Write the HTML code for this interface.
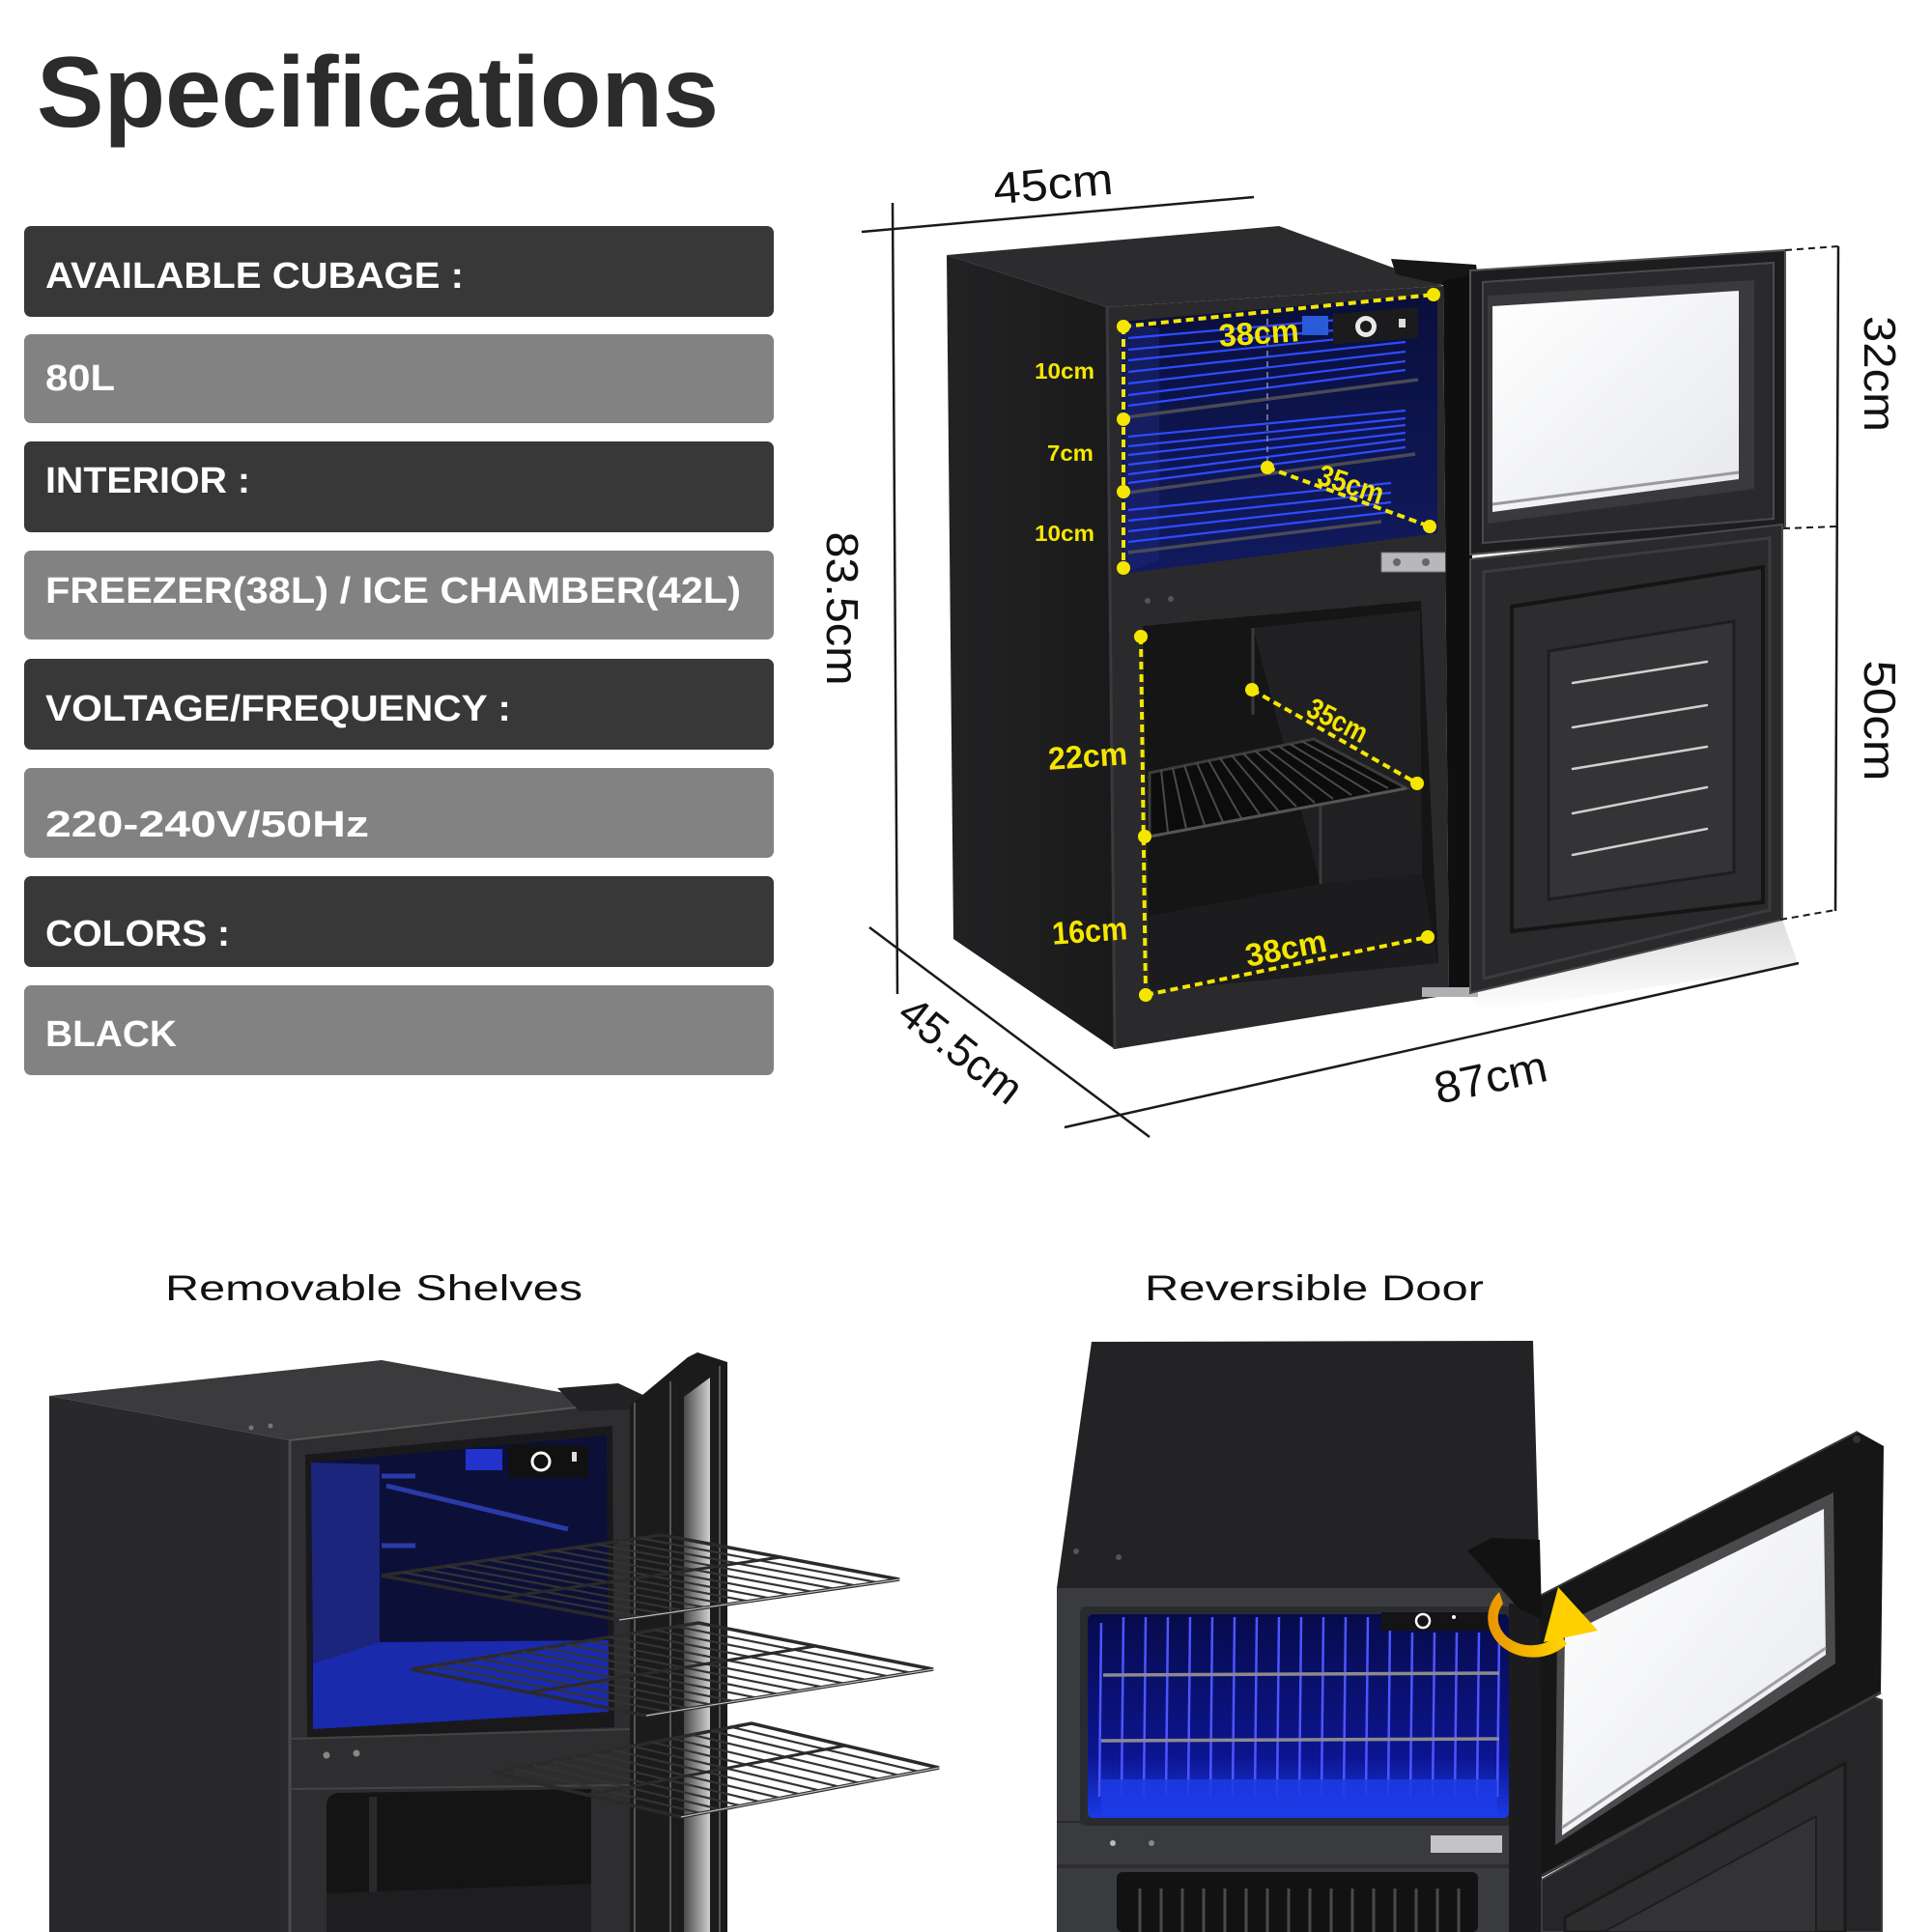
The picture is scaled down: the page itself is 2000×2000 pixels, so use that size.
<!DOCTYPE html>
<html><head><meta charset="utf-8">
<style>
html,body{margin:0;padding:0;background:#fff;}
svg{display:block;}
</style></head>
<body>
<svg width="2000" height="2000" viewBox="0 0 2000 2000" xmlns="http://www.w3.org/2000/svg" font-family="'Liberation Sans', sans-serif">
<defs>
<linearGradient id="glassG" x1="0" y1="0" x2="1" y2="1"><stop offset="0" stop-color="#ffffff"/><stop offset="1" stop-color="#e6e8ec"/></linearGradient>
<linearGradient id="blueT" x1="0" y1="0" x2="0" y2="1"><stop offset="0" stop-color="#0a0f3c"/><stop offset="1" stop-color="#111a5e"/></linearGradient>
<linearGradient id="blueBR" x1="0" y1="0" x2="0" y2="1"><stop offset="0" stop-color="#070b4a"/><stop offset="0.7" stop-color="#0c1590"/><stop offset="1" stop-color="#1a3ae8"/></linearGradient>
<linearGradient id="arrowG" x1="0" y1="0" x2="1" y2="0"><stop offset="0" stop-color="#e99400"/><stop offset="1" stop-color="#ffd600"/></linearGradient>
<linearGradient id="stripG" x1="0" y1="0" x2="1" y2="0"><stop offset="0" stop-color="#4a4a4a"/><stop offset="1" stop-color="#cfcfcf"/></linearGradient>
<linearGradient id="sideG" x1="0" y1="0" x2="1" y2="0"><stop offset="0" stop-color="#222224"/><stop offset="1" stop-color="#1a1a1b"/></linearGradient>
<linearGradient id="floorRef" x1="0" y1="0" x2="0" y2="1"><stop offset="0" stop-color="#cfcfcf"/><stop offset="1" stop-color="#ffffff"/></linearGradient>
<g id="rack">
 <rect x="0" y="0" width="1" height="1" fill="none" stroke="#2a2a2a" stroke-width="3.5" vector-effect="non-scaling-stroke"/>
 <g stroke="#333" stroke-width="2.2">
 <line x1="0.077" y1="0" x2="0.077" y2="1" vector-effect="non-scaling-stroke"/>
 <line x1="0.154" y1="0" x2="0.154" y2="1" vector-effect="non-scaling-stroke"/>
 <line x1="0.231" y1="0" x2="0.231" y2="1" vector-effect="non-scaling-stroke"/>
 <line x1="0.308" y1="0" x2="0.308" y2="1" vector-effect="non-scaling-stroke"/>
 <line x1="0.385" y1="0" x2="0.385" y2="1" vector-effect="non-scaling-stroke"/>
 <line x1="0.462" y1="0" x2="0.462" y2="1" vector-effect="non-scaling-stroke"/>
 <line x1="0.538" y1="0" x2="0.538" y2="1" vector-effect="non-scaling-stroke"/>
 <line x1="0.615" y1="0" x2="0.615" y2="1" vector-effect="non-scaling-stroke"/>
 <line x1="0.692" y1="0" x2="0.692" y2="1" vector-effect="non-scaling-stroke"/>
 <line x1="0.769" y1="0" x2="0.769" y2="1" vector-effect="non-scaling-stroke"/>
 <line x1="0.846" y1="0" x2="0.846" y2="1" vector-effect="non-scaling-stroke"/>
 <line x1="0.923" y1="0" x2="0.923" y2="1" vector-effect="non-scaling-stroke"/>
 </g>
 <line x1="0" y1="0.5" x2="1" y2="0.5" stroke="#2a2a2a" stroke-width="3" vector-effect="non-scaling-stroke"/>
 <line x1="0" y1="1" x2="1" y2="1" stroke="#bdbdbd" stroke-width="1.2" vector-effect="non-scaling-stroke"/>
</g>
</defs>

<rect width="2000" height="2000" fill="#ffffff"/>

<!-- ===== Title ===== -->
<text x="38" y="131" font-size="104" font-weight="bold" fill="#2b2b2b" textLength="706" lengthAdjust="spacingAndGlyphs">Specifications</text>

<!-- ===== Spec bars ===== -->
<rect x="25" y="234" width="776" height="94" rx="7" fill="#383838"/>
<rect x="25" y="346" width="776" height="92" rx="7" fill="#828282"/>
<rect x="25" y="457" width="776" height="94" rx="7" fill="#383838"/>
<rect x="25" y="570" width="776" height="92" rx="7" fill="#828282"/>
<rect x="25" y="682" width="776" height="94" rx="7" fill="#383838"/>
<rect x="25" y="795" width="776" height="93" rx="7" fill="#828282"/>
<rect x="25" y="907" width="776" height="94" rx="7" fill="#383838"/>
<rect x="25" y="1020" width="776" height="93" rx="7" fill="#828282"/>
<g font-size="38" font-weight="bold" fill="#ffffff">
<text x="47" y="298" textLength="433" lengthAdjust="spacingAndGlyphs">AVAILABLE CUBAGE :</text>
<text x="47" y="404" textLength="72" lengthAdjust="spacingAndGlyphs">80L</text>
<text x="47" y="510" textLength="212" lengthAdjust="spacingAndGlyphs">INTERIOR :</text>
<text x="47" y="624" textLength="720" lengthAdjust="spacingAndGlyphs">FREEZER(38L) / ICE CHAMBER(42L)</text>
<text x="47" y="746" textLength="482" lengthAdjust="spacingAndGlyphs">VOLTAGE/FREQUENCY :</text>
<text x="47" y="866" textLength="335" lengthAdjust="spacingAndGlyphs">220-240V/50Hz</text>
<text x="47" y="979" textLength="191" lengthAdjust="spacingAndGlyphs">COLORS :</text>
<text x="47" y="1083" textLength="136" lengthAdjust="spacingAndGlyphs">BLACK</text>
</g>

<!-- ===== TOP DIAGRAM (fridge) ===== -->
<polygon points="1522,1028 1845,952 1862,1000 1530,1048" fill="url(#floorRef)" opacity="0.7"/>
<polygon points="980,264 1146,318 1154,1086 987,972" fill="url(#sideG)"/>
<polygon points="980,264 1324,234 1494,296 1146,318" fill="#2c2c2e"/>
<polygon points="1440,268 1528,274 1530,286 1497,296 1445,284" fill="#161616"/>
<polygon points="1146,318 1494,296 1500,1030 1154,1086" fill="#2a2a2c"/>
<line x1="1146" y1="318" x2="1154" y2="1086" stroke="#3a3a3c" stroke-width="3"/>
<polygon points="1160,333 1488,304 1488,552 1162,594" fill="url(#blueT)"/>
<polygon points="1160,333 1200,340 1200,580 1162,594" fill="#1a2470" opacity="0.6"/>
<g stroke="#2f4bff" stroke-width="2.2" fill="none">
<line x1="1168" y1="350" x2="1455" y2="325"/>
<line x1="1168" y1="362" x2="1455" y2="335"/>
<line x1="1168" y1="373" x2="1455" y2="344"/>
<line x1="1168" y1="385" x2="1455" y2="354"/>
<line x1="1168" y1="397" x2="1455" y2="364"/>
<line x1="1168" y1="409" x2="1455" y2="374"/>
<line x1="1168" y1="420" x2="1455" y2="383"/>
<line x1="1168" y1="452" x2="1455" y2="425"/>
<line x1="1168" y1="462" x2="1455" y2="433"/>
<line x1="1168" y1="471" x2="1455" y2="440"/>
<line x1="1168" y1="481" x2="1455" y2="448"/>
<line x1="1168" y1="491" x2="1455" y2="455"/>
<line x1="1168" y1="500" x2="1455" y2="463"/>
<line x1="1168" y1="528" x2="1440" y2="500"/>
<line x1="1168" y1="539" x2="1440" y2="510"/>
<line x1="1168" y1="550" x2="1440" y2="520"/>
<line x1="1168" y1="561" x2="1440" y2="530"/>
</g>
<g stroke="#4a4a55" stroke-width="3.5">
<line x1="1166" y1="432" x2="1468" y2="393"/>
<line x1="1168" y1="510" x2="1465" y2="470"/>
<line x1="1168" y1="572" x2="1430" y2="540"/>
</g>
<line x1="1312" y1="330" x2="1312" y2="484" stroke="#8890b0" stroke-width="1.5" stroke-dasharray="6 5"/>
<rect x="1348" y="327" width="27" height="20" fill="#2a5ad8"/>
<polygon points="1380,325 1468,318 1468,350 1380,356" fill="#1b1b1d"/>
<circle cx="1414" cy="338" r="11" fill="#e8e8e8"/>
<circle cx="1414" cy="338" r="6" fill="#1b1b1d"/>
<rect x="1448" y="330" width="7" height="9" fill="#ddd"/>
<rect x="1430" y="572" width="68" height="20" fill="#b8b8bc" stroke="#777" stroke-width="1"/>
<circle cx="1446" cy="582" r="4" fill="#666"/><circle cx="1476" cy="582" r="4" fill="#666"/>
<circle cx="1188" cy="622" r="3" fill="#555"/><circle cx="1212" cy="620" r="3" fill="#555"/>
<polygon points="1183,648 1471,622 1489,997 1190,1026" fill="#151516"/>
<polygon points="1297,650 1470,632 1472,905 1367,915" fill="#202023"/>
<polygon points="1190,948 1367,915 1472,905 1489,997 1190,1026" fill="#1c1c1e"/>
<line x1="1297" y1="650" x2="1297" y2="740" stroke="#3a3a3c" stroke-width="3"/>
<line x1="1367" y1="830" x2="1367" y2="915" stroke="#3a3a3c" stroke-width="3"/>
<polygon points="1190,800 1360,765 1456,816 1190,866" fill="#0c0c0c" stroke="#3c3c3c" stroke-width="3"/>
<g stroke="#4a4a4a" stroke-width="2">
<line x1="1202" y1="797" x2="1209" y2="862"/><line x1="1214" y1="795" x2="1228" y2="858"/>
<line x1="1226" y1="792" x2="1247" y2="854"/><line x1="1239" y1="790" x2="1266" y2="851"/>
<line x1="1251" y1="787" x2="1285" y2="847"/><line x1="1263" y1="785" x2="1304" y2="843"/>
<line x1="1275" y1="782" x2="1323" y2="839"/><line x1="1287" y1="780" x2="1342" y2="835"/>
<line x1="1299" y1="777" x2="1361" y2="831"/><line x1="1311" y1="775" x2="1380" y2="827"/>
<line x1="1323" y1="772" x2="1399" y2="823"/><line x1="1335" y1="770" x2="1418" y2="820"/>
<line x1="1347" y1="767" x2="1437" y2="816"/>
</g>
<line x1="1190" y1="866" x2="1456" y2="816" stroke="#555" stroke-width="3"/>
<polygon points="1494,290 1524,284 1524,1030 1500,1032" fill="#0f0f10"/>
<rect x="1472" y="1022" width="58" height="10" fill="#b0b0b4"/>
<polygon points="1522,280 1848,259 1848,546 1522,574" fill="#1d1d1f" stroke="#555" stroke-width="2"/>
<polygon points="1535,292 1836,272 1836,537 1535,562" fill="#2a2a2c" stroke="#4a4a4c" stroke-width="2"/>
<polygon points="1540,306 1816,290 1816,506 1540,542" fill="#3a3a3d"/>
<polygon points="1545,317 1800,301 1800,496 1545,530" fill="url(#glassG)"/>
<line x1="1545" y1="522" x2="1800" y2="489" stroke="#9a9a9e" stroke-width="3"/>
<polygon points="1522,579 1845,543 1845,952 1522,1028" fill="#2a2a2c" stroke="#4a4a4c" stroke-width="2"/>
<polygon points="1536,592 1832,557 1832,942 1536,1013" fill="none" stroke="#3c3c3e" stroke-width="3"/>
<polygon points="1565,628 1825,587 1825,934 1565,964" fill="#2d2d30" stroke="#151515" stroke-width="4"/>
<polygon points="1603,674 1795,643 1795,903 1603,931" fill="#343437" stroke="#1e1e20" stroke-width="3"/>
<g stroke="#d0d0d0" stroke-width="2.5" stroke-linecap="round">
<line x1="1628" y1="707" x2="1767" y2="685"/>
<line x1="1628" y1="753" x2="1767" y2="730"/>
<line x1="1628" y1="796" x2="1767" y2="773"/>
<line x1="1628" y1="842" x2="1767" y2="815"/>
<line x1="1628" y1="885" x2="1767" y2="858"/>
</g>

<g stroke="#1a1a1a" stroke-width="2.5" fill="none">
<line x1="892" y1="240" x2="1298" y2="204"/>
<line x1="924" y1="210" x2="929" y2="1029"/>
<line x1="900" y1="960" x2="1190" y2="1177"/>
<line x1="1102" y1="1167" x2="1862" y2="997"/>
<line x1="1903" y1="255" x2="1900" y2="943"/>
</g>
<g stroke="#1a1a1a" stroke-width="2" stroke-dasharray="7 5">
<line x1="1848" y1="259" x2="1903" y2="255"/>
<line x1="1846" y1="547" x2="1902" y2="545"/>
<line x1="1843" y1="952" x2="1900" y2="942"/>
</g>
<g font-size="46" fill="#111" text-anchor="middle">
<text transform="translate(1090,190) rotate(-5)" x="0" y="16" textLength="124" lengthAdjust="spacingAndGlyphs">45cm</text>
<text transform="translate(872,630) rotate(90)" x="0" y="16" textLength="159" lengthAdjust="spacingAndGlyphs">83.5cm</text>
<text transform="translate(995,1087) rotate(38)" x="0" y="16" textLength="148" lengthAdjust="spacingAndGlyphs">45.5cm</text>
<text transform="translate(1543,1115) rotate(-12)" x="0" y="16" textLength="118" lengthAdjust="spacingAndGlyphs">87cm</text>
<text transform="translate(1946,387) rotate(90)" x="0" y="16" textLength="120" lengthAdjust="spacingAndGlyphs">32cm</text>
<text transform="translate(1946,746) rotate(90)" x="0" y="16" textLength="125" lengthAdjust="spacingAndGlyphs">50cm</text>
</g>

<g stroke="#f5e600" stroke-width="4" stroke-dasharray="8 5" fill="none">
<line x1="1163" y1="338" x2="1163" y2="588"/>
<line x1="1163" y1="338" x2="1484" y2="305"/>
<line x1="1312" y1="484" x2="1480" y2="545"/>
<line x1="1181" y1="659" x2="1186" y2="1030"/>
<line x1="1186" y1="1030" x2="1478" y2="970"/>
<line x1="1296" y1="714" x2="1467" y2="811"/>
</g>
<g fill="#f5e600">
<circle cx="1163" cy="338" r="7"/><circle cx="1163" cy="434" r="7"/><circle cx="1163" cy="509" r="7"/><circle cx="1163" cy="588" r="7"/>
<circle cx="1484" cy="305" r="7"/><circle cx="1312" cy="484" r="7"/><circle cx="1480" cy="545" r="7"/>
<circle cx="1181" cy="659" r="7"/><circle cx="1185" cy="866" r="7"/><circle cx="1186" cy="1030" r="7"/>
<circle cx="1478" cy="970" r="7"/><circle cx="1296" cy="714" r="7"/><circle cx="1467" cy="811" r="7"/>
</g>
<g fill="#f5e600" font-weight="bold" text-anchor="middle">
<text transform="translate(1303,344) rotate(-4)" x="0" y="12" font-size="33" textLength="83" lengthAdjust="spacingAndGlyphs">38cm</text>
<text transform="translate(1102,384)" x="0" y="8" font-size="23" textLength="62" lengthAdjust="spacingAndGlyphs">10cm</text>
<text transform="translate(1108,469)" x="0" y="8" font-size="23" textLength="48" lengthAdjust="spacingAndGlyphs">7cm</text>
<text transform="translate(1102,552)" x="0" y="8" font-size="23" textLength="62" lengthAdjust="spacingAndGlyphs">10cm</text>
<text transform="translate(1399,500) rotate(18)" x="0" y="12" font-size="31" textLength="70" lengthAdjust="spacingAndGlyphs">35cm</text>
<text transform="translate(1126,782) rotate(-4)" x="0" y="12" font-size="33" textLength="82" lengthAdjust="spacingAndGlyphs">22cm</text>
<text transform="translate(1128,963) rotate(-4)" x="0" y="12" font-size="33" textLength="78" lengthAdjust="spacingAndGlyphs">16cm</text>
<text transform="translate(1331,981) rotate(-11)" x="0" y="12" font-size="33" textLength="85" lengthAdjust="spacingAndGlyphs">38cm</text>
<text transform="translate(1385,745) rotate(27)" x="0" y="11" font-size="30" textLength="66" lengthAdjust="spacingAndGlyphs">35cm</text>
</g>

<!-- ===== Bottom labels ===== -->
<text x="171" y="1346" font-size="37" fill="#111" textLength="432" lengthAdjust="spacingAndGlyphs">Removable Shelves</text>
<text x="1185" y="1346" font-size="37" fill="#111" textLength="351" lengthAdjust="spacingAndGlyphs">Reversible Door</text>

<!-- ===== BOTTOM LEFT (removable shelves) ===== -->
<polygon points="51,1445 300,1491 300,2000 51,2000" fill="#29292b"/>
<polygon points="51,1445 395,1408 640,1452 300,1491" fill="#3b3b3d"/>
<polygon points="300,1491 640,1452 652,1452 652,2000 300,2000" fill="#2e2e31"/>
<line x1="300" y1="1491" x2="300" y2="2000" stroke="#4a4a4d" stroke-width="3"/>
<line x1="300" y1="1491" x2="640" y2="1452" stroke="#555" stroke-width="2"/>
<circle cx="260" cy="1478" r="2.5" fill="#777"/><circle cx="280" cy="1476" r="2.5" fill="#777"/>
<polygon points="316,1506 634,1476 636,1788 318,1800" fill="#19191b"/>
<polygon points="322,1514 628,1486 630,1772 324,1790" fill="#0c1038"/>
<polygon points="322,1514 393,1516 393,1700 324,1722" fill="#1b257c"/>
<polygon points="324,1722 393,1700 630,1698 630,1772 324,1790" fill="#1a2aac"/>
<g stroke="#2a3aa8" stroke-width="5">
<line x1="400" y1="1538" x2="588" y2="1583"/>
<line x1="395" y1="1600" x2="430" y2="1600"/>
<line x1="395" y1="1528" x2="430" y2="1528"/>
</g>
<rect x="482" y="1500" width="38" height="22" fill="#2233cc"/>
<rect x="526" y="1496" width="83" height="34" fill="#111"/>
<circle cx="560" cy="1513" r="9" fill="none" stroke="#fff" stroke-width="3"/>
<rect x="592" y="1503" width="5" height="10" fill="#ddd"/>
<line x1="300" y1="1800" x2="652" y2="1790" stroke="#444" stroke-width="2"/>
<line x1="300" y1="1852" x2="652" y2="1848" stroke="#444" stroke-width="2"/>
<circle cx="338" cy="1817" r="3.5" fill="#888"/><circle cx="369" cy="1815" r="3.5" fill="#888"/>
<path d="M338,2000 L338,1870 Q338,1856 352,1856 L612,1852 L612,2000 Z" fill="#141415"/>
<rect x="382" y="1860" width="8" height="100" fill="#2a2a2c"/>
<polygon points="338,1960 612,1950 612,2000 338,2000" fill="#1e1e20"/>
<polygon points="577,1437 640,1432 672,1447 672,1458 600,1461" fill="#222224"/>
<polygon points="652,1455 712,1405 722,1400 753,1410 753,2000 652,2000" fill="#1b1b1c"/>
<polygon points="708,1446 735,1426 735,2000 708,2000" fill="url(#stripG)"/>
<g stroke="#6a6a6a" stroke-width="1.5">
<line x1="657" y1="1452" x2="657" y2="2000"/>
<line x1="694" y1="1430" x2="694" y2="2000"/>
<line x1="745" y1="1414" x2="745" y2="2000"/>
</g>
<use href="#rack" transform="matrix(290,-42,246,46,395,1631)"/>
<use href="#rack" transform="matrix(297,-48,243,48,426,1728)"/>
<use href="#rack" transform="matrix(267,-51,194,46,511,1835)"/>

<!-- ===== BOTTOM RIGHT (reversible door) ===== -->
<polygon points="1130,1389 1587,1388 1594,1644 1094,1644" fill="#232325"/>
<circle cx="1114" cy="1606" r="3" fill="#555"/><circle cx="1158" cy="1612" r="3" fill="#555"/>
<rect x="1094" y="1644" width="500" height="356" fill="#3a3b3f"/>
<rect x="1118" y="1663" width="452" height="227" rx="6" fill="#2a2b2e"/>
<rect x="1126" y="1671" width="436" height="211" rx="6" fill="url(#blueBR)"/>
<g stroke="#4d55ff" stroke-width="2.5">
<line x1="1140" y1="1680" x2="1138" y2="1860"/><line x1="1163" y1="1674" x2="1161" y2="1860"/>
<line x1="1186" y1="1674" x2="1184" y2="1860"/><line x1="1209" y1="1674" x2="1207" y2="1860"/>
<line x1="1232" y1="1674" x2="1230" y2="1860"/><line x1="1255" y1="1674" x2="1253" y2="1860"/>
<line x1="1278" y1="1674" x2="1276" y2="1860"/><line x1="1301" y1="1674" x2="1299" y2="1860"/>
<line x1="1324" y1="1674" x2="1322" y2="1860"/><line x1="1347" y1="1674" x2="1345" y2="1860"/>
<line x1="1370" y1="1674" x2="1368" y2="1860"/><line x1="1393" y1="1674" x2="1391" y2="1860"/>
<line x1="1416" y1="1674" x2="1414" y2="1860"/><line x1="1439" y1="1674" x2="1437" y2="1860"/>
<line x1="1462" y1="1690" x2="1460" y2="1860"/><line x1="1485" y1="1690" x2="1483" y2="1860"/>
<line x1="1508" y1="1690" x2="1506" y2="1860"/><line x1="1531" y1="1690" x2="1529" y2="1860"/>
<line x1="1552" y1="1690" x2="1550" y2="1860"/>
</g>
<rect x="1140" y="1842" width="410" height="38" fill="#1d3be6" opacity="0.85"/>
<g stroke="#8a8a90" stroke-width="3.5">
<line x1="1142" y1="1734" x2="1552" y2="1732"/>
<line x1="1140" y1="1802" x2="1552" y2="1800"/>
</g>
<rect x="1430" y="1669" width="121" height="19" fill="#141416"/>
<circle cx="1473" cy="1678" r="7" fill="none" stroke="#fff" stroke-width="2.5"/>
<circle cx="1505" cy="1674" r="2" fill="#fff"/>
<line x1="1094" y1="1886" x2="1594" y2="1886" stroke="#2a2a2c" stroke-width="2"/>
<circle cx="1152" cy="1908" r="3" fill="#bbb"/><circle cx="1192" cy="1908" r="3" fill="#888"/>
<rect x="1481" y="1900" width="74" height="18" fill="#c4c4c8"/>
<rect x="1094" y="1930" width="500" height="4" fill="#2e2e31"/>
<rect x="1156" y="1938" width="374" height="62" rx="6" fill="#121213"/>
<g stroke="#4a4a4c" stroke-width="3">
<line x1="1180" y1="1955" x2="1180" y2="2000"/><line x1="1202" y1="1955" x2="1202" y2="2000"/>
<line x1="1224" y1="1955" x2="1224" y2="2000"/><line x1="1246" y1="1955" x2="1246" y2="2000"/>
<line x1="1268" y1="1955" x2="1268" y2="2000"/><line x1="1290" y1="1955" x2="1290" y2="2000"/>
<line x1="1312" y1="1955" x2="1312" y2="2000"/><line x1="1334" y1="1955" x2="1334" y2="2000"/>
<line x1="1356" y1="1955" x2="1356" y2="2000"/><line x1="1378" y1="1955" x2="1378" y2="2000"/>
<line x1="1400" y1="1955" x2="1400" y2="2000"/><line x1="1422" y1="1955" x2="1422" y2="2000"/>
<line x1="1444" y1="1955" x2="1444" y2="2000"/><line x1="1466" y1="1955" x2="1466" y2="2000"/>
<line x1="1488" y1="1955" x2="1488" y2="2000"/><line x1="1510" y1="1955" x2="1510" y2="2000"/>
</g>
<rect x="1562" y="1660" width="34" height="340" fill="#1c1c1e"/>
<polygon points="1596,1946 1935,1755 1948,1760 1948,2000 1596,2000" fill="#262628" stroke="#3e3e40" stroke-width="2"/>
<polygon points="1620,1985 1910,1825 1910,2000 1620,2000" fill="#2d2d30" stroke="#1a1a1a" stroke-width="3"/>
<polygon points="1660,2000 1880,1880 1880,2000" fill="#333336" stroke="#1e1e20" stroke-width="2"/>
<polygon points="1594,1652 1923,1482 1950,1497 1947,1752 1596,1942" fill="#161617"/>
<polygon points="1612,1684 1898,1545 1900,1722 1610,1910" fill="#4a4a4d"/>
<polygon points="1620,1693 1888,1562 1890,1713 1617,1900" fill="url(#glassG)"/>
<line x1="1617" y1="1892" x2="1890" y2="1706" stroke="#a0a0a4" stroke-width="3"/>
<line x1="1596" y1="1942" x2="1947" y2="1752" stroke="#3a3a3c" stroke-width="3"/>
<line x1="1594" y1="1652" x2="1923" y2="1482" stroke="#3a3a3c" stroke-width="2"/>
<circle cx="1922" cy="1490" r="4" fill="#333"/>
<polygon points="1519,1605 1544,1592 1594,1594 1596,1676 1573,1666" fill="#121213"/>
<path d="M1552,1648 A46 40 0 1 0 1622,1702 L1614,1690 A34 28 0 1 1 1556,1660 Z" fill="url(#arrowG)"/>
<polygon points="1613,1643 1598,1700 1654,1688" fill="#ffd000"/>
</svg>
</body></html>
